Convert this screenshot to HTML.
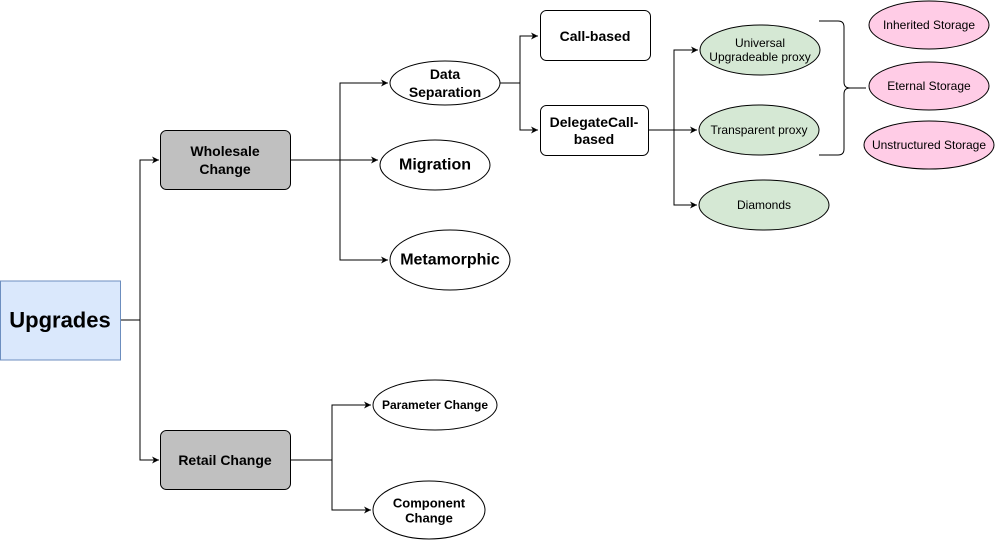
<!DOCTYPE html>
<html><head><style>body{margin:0;background:#fff}svg{display:block}text{font-family:"Liberation Sans",sans-serif;text-anchor:middle;dominant-baseline:central}</style></head>
<body>
<svg width="995" height="541" viewBox="0 0 995 541" xmlns="http://www.w3.org/2000/svg">
<defs><marker id="a" markerWidth="8" markerHeight="8" refX="7" refY="4" orient="auto" markerUnits="userSpaceOnUse"><path d="M0,0.5 L7,4 L0,7.5 L2,4 Z" fill="#000"/></marker></defs>
<g fill="none" stroke="#000" stroke-width="1">
<path d="M120,320 H140 V160 H159" marker-end="url(#a)"/>
<path d="M140,320 V460 H159" marker-end="url(#a)"/>
<path d="M290,160 H340 V83 H388" marker-end="url(#a)"/>
<path d="M340,160 H378" marker-end="url(#a)"/>
<path d="M340,160 V260 H388" marker-end="url(#a)"/>
<path d="M500,83 H520 V36 H538" marker-end="url(#a)"/>
<path d="M520,83 V130 H538" marker-end="url(#a)"/>
<path d="M648,130 H674 V50 H698" marker-end="url(#a)"/>
<path d="M674,130 H697" marker-end="url(#a)"/>
<path d="M674,130 V205 H697" marker-end="url(#a)"/>
<path d="M290,460 H332 V405 H371" marker-end="url(#a)"/>
<path d="M332,460 V510 H371" marker-end="url(#a)"/>
<path d="M819,21 H838 Q844,21 844,27 V82 Q844,88 850,88 H866 M850,88 Q844,88 844,94 V149 Q844,155 838,155 H819"/>
</g>
<rect x="0.5" y="281" width="120" height="79" fill="#dae8fc" stroke="#6c8ebf"/>
<text x="60" y="320" font-size="22" font-weight="bold">Upgrades</text>
<rect x="160.5" y="130.5" width="130" height="59" rx="6" fill="#c0c0c0" stroke="#000"/>
<text x="225" y="151" font-size="14" font-weight="bold">Wholesale</text><text x="225" y="169" font-size="14" font-weight="bold">Change</text>
<rect x="160.5" y="430.5" width="130" height="59" rx="6" fill="#c0c0c0" stroke="#000"/>
<text x="225" y="460" font-size="14" font-weight="bold">Retail Change</text>
<g stroke="#000" fill="#fff">
<ellipse cx="445" cy="83" rx="55" ry="22"/>
<ellipse cx="435" cy="165" rx="55" ry="25"/>
<ellipse cx="450" cy="260" rx="60" ry="30"/>
<ellipse cx="435" cy="405" rx="62" ry="25"/>
<ellipse cx="429" cy="510" rx="56" ry="29"/>
<rect x="540.5" y="10.5" width="110" height="50" rx="6"/>
<rect x="540.5" y="105.5" width="108" height="50" rx="6"/>
</g>
<g stroke="#000" fill="#d5e8d4">
<ellipse cx="760" cy="50" rx="60" ry="25"/>
<ellipse cx="759" cy="130" rx="60" ry="25"/>
<ellipse cx="764" cy="205" rx="65" ry="25"/>
</g>
<g stroke="#000" fill="#ffcce6">
<ellipse cx="929" cy="25" rx="60" ry="24"/>
<ellipse cx="929" cy="86" rx="60" ry="24"/>
<ellipse cx="929" cy="145" rx="65" ry="24"/>
</g>
<g font-weight="bold" font-size="14">
<text x="445" y="74">Data</text><text x="445" y="92">Separation</text>
<text x="435" y="165" font-size="16">Migration</text>
<text x="450" y="260" font-size="16">Metamorphic</text>
<text x="435" y="405" font-size="12">Parameter Change</text>
<text x="429" y="503" font-size="13">Component</text><text x="429" y="518" font-size="13">Change</text>
<text x="595" y="36">Call-based</text>
<text x="594" y="122">DelegateCall-</text><text x="594" y="139">based</text>
</g>
<g font-size="12">
<text x="760" y="43">Universal</text><text x="760" y="57">Upgradeable proxy</text>
<text x="759" y="130">Transparent proxy</text>
<text x="764" y="205">Diamonds</text>
<text x="929" y="25">Inherited Storage</text>
<text x="929" y="86">Eternal Storage</text>
<text x="929" y="145">Unstructured Storage</text>
</g>
</svg>
</body></html>
